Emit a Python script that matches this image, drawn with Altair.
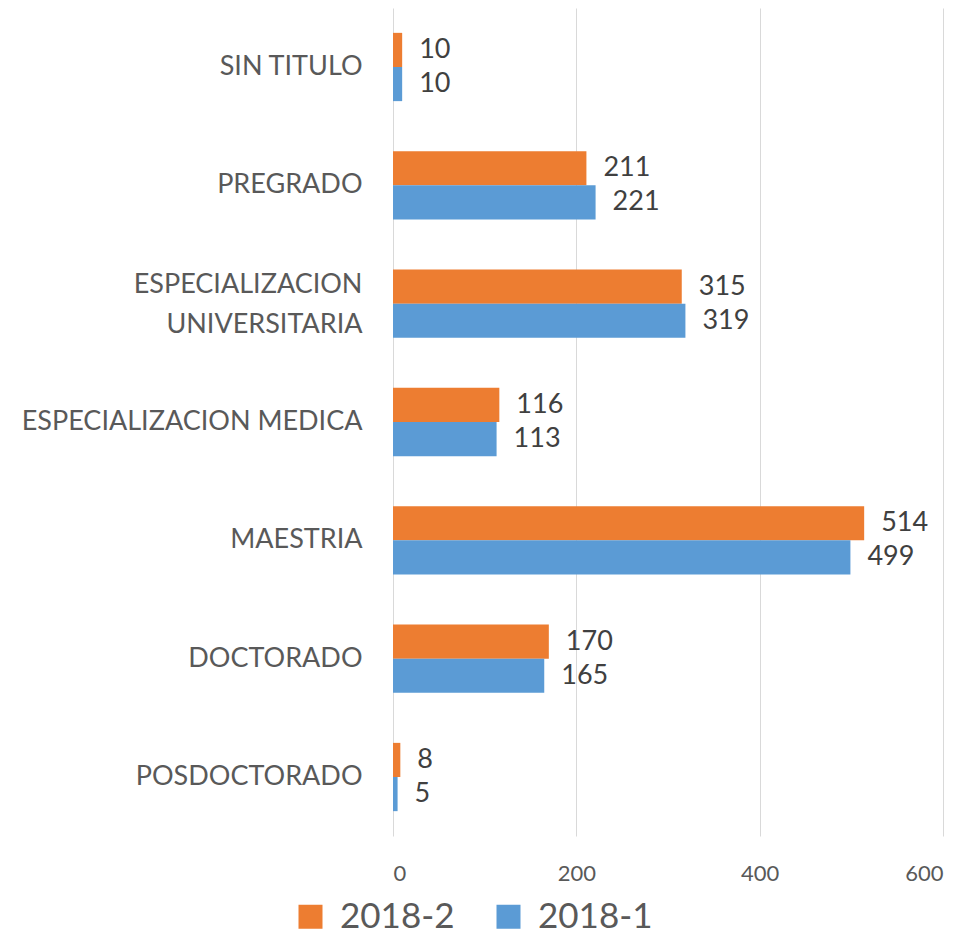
import altair as alt
import pandas as pd

categories = ["SIN TITULO", "PREGRADO", "ESPECIALIZACION|UNIVERSITARIA",
              "ESPECIALIZACION MEDICA", "MAESTRIA", "DOCTORADO", "POSDOCTORADO"]
series = ["2018-2", "2018-1"]
values_2018_2 = [10, 211, 315, 116, 514, 170, 8]
values_2018_1 = [10, 221, 319, 113, 499, 165, 5]
colors = ["#ED7D31", "#5B9BD5"]

rows = []
for c, v2, v1 in zip(categories, values_2018_2, values_2018_1):
    rows.append({"cat": c, "serie": "2018-2", "val": v2})
    rows.append({"cat": c, "serie": "2018-1", "val": v1})
df = pd.DataFrame(rows)

FONT = "Lato"

y_enc = alt.Y("cat:N", sort=categories,
              scale=alt.Scale(paddingInner=0.423, paddingOuter=0.21),
              axis=alt.Axis(title=None, ticks=False, domain=False,
                            labelFont=FONT, labelFontSize=27, labelColor="#595959",
                            labelPadding=31, labelLimit=400, labelLineHeight=40,
                            labelOffset={"condition": {"test": "indexof(datum.value, '|') >= 0", "value": -19}, "value": 0},
                            labelExpr="split(datum.label, '|')"))
yoff = alt.YOffset("serie:N", sort=series, scale=alt.Scale(paddingInner=0, paddingOuter=0))
x_enc = alt.X("val:Q", scale=alt.Scale(domain=[0, 600], nice=False),
              axis=alt.Axis(title=None, values=[0, 200, 400, 600], ticks=False, domain=False,
                            grid=True, gridColor="#d9d9d9", gridWidth=1,
                            labelFont=FONT, labelFontSize=22, labelColor="#595959",
                            labelPadding=27))
color_enc = alt.Color("serie:N", sort=series,
                      scale=alt.Scale(domain=series, range=colors),
                      legend=alt.Legend(title=None, orient="none", direction="horizontal",
                                        legendX=-100, legendY=891,
                                        symbolType="square", symbolSize=576,
                                        symbolStrokeWidth=0, symbolOpacity=1,
                                        labelFont=FONT, labelFontSize=35, labelColor="#595959",
                                        labelOffset=12, columnPadding=36))

bars = alt.Chart(df).mark_bar(opacity=1).encode(y=y_enc, yOffset=yoff, x=x_enc, color=color_enc)
labels = alt.Chart(df).mark_text(align="left", baseline="middle", dx=17,
                                 font=FONT, fontSize=27, color="#404040").encode(
    y=alt.Y("cat:N", sort=categories), yOffset=yoff, x="val:Q", text="val:Q")

chart = alt.layer(bars, labels).properties(
    width=550, height=828,
    autosize=alt.AutoSizeParams(type="none"),
    padding={"left": 385, "top": 0, "right": 20, "bottom": 99},
).configure_view(stroke=None).configure_axis(labelOverlap=False)

chart.save("out.html", embed_options={"renderer": "svg", "actions": False})
